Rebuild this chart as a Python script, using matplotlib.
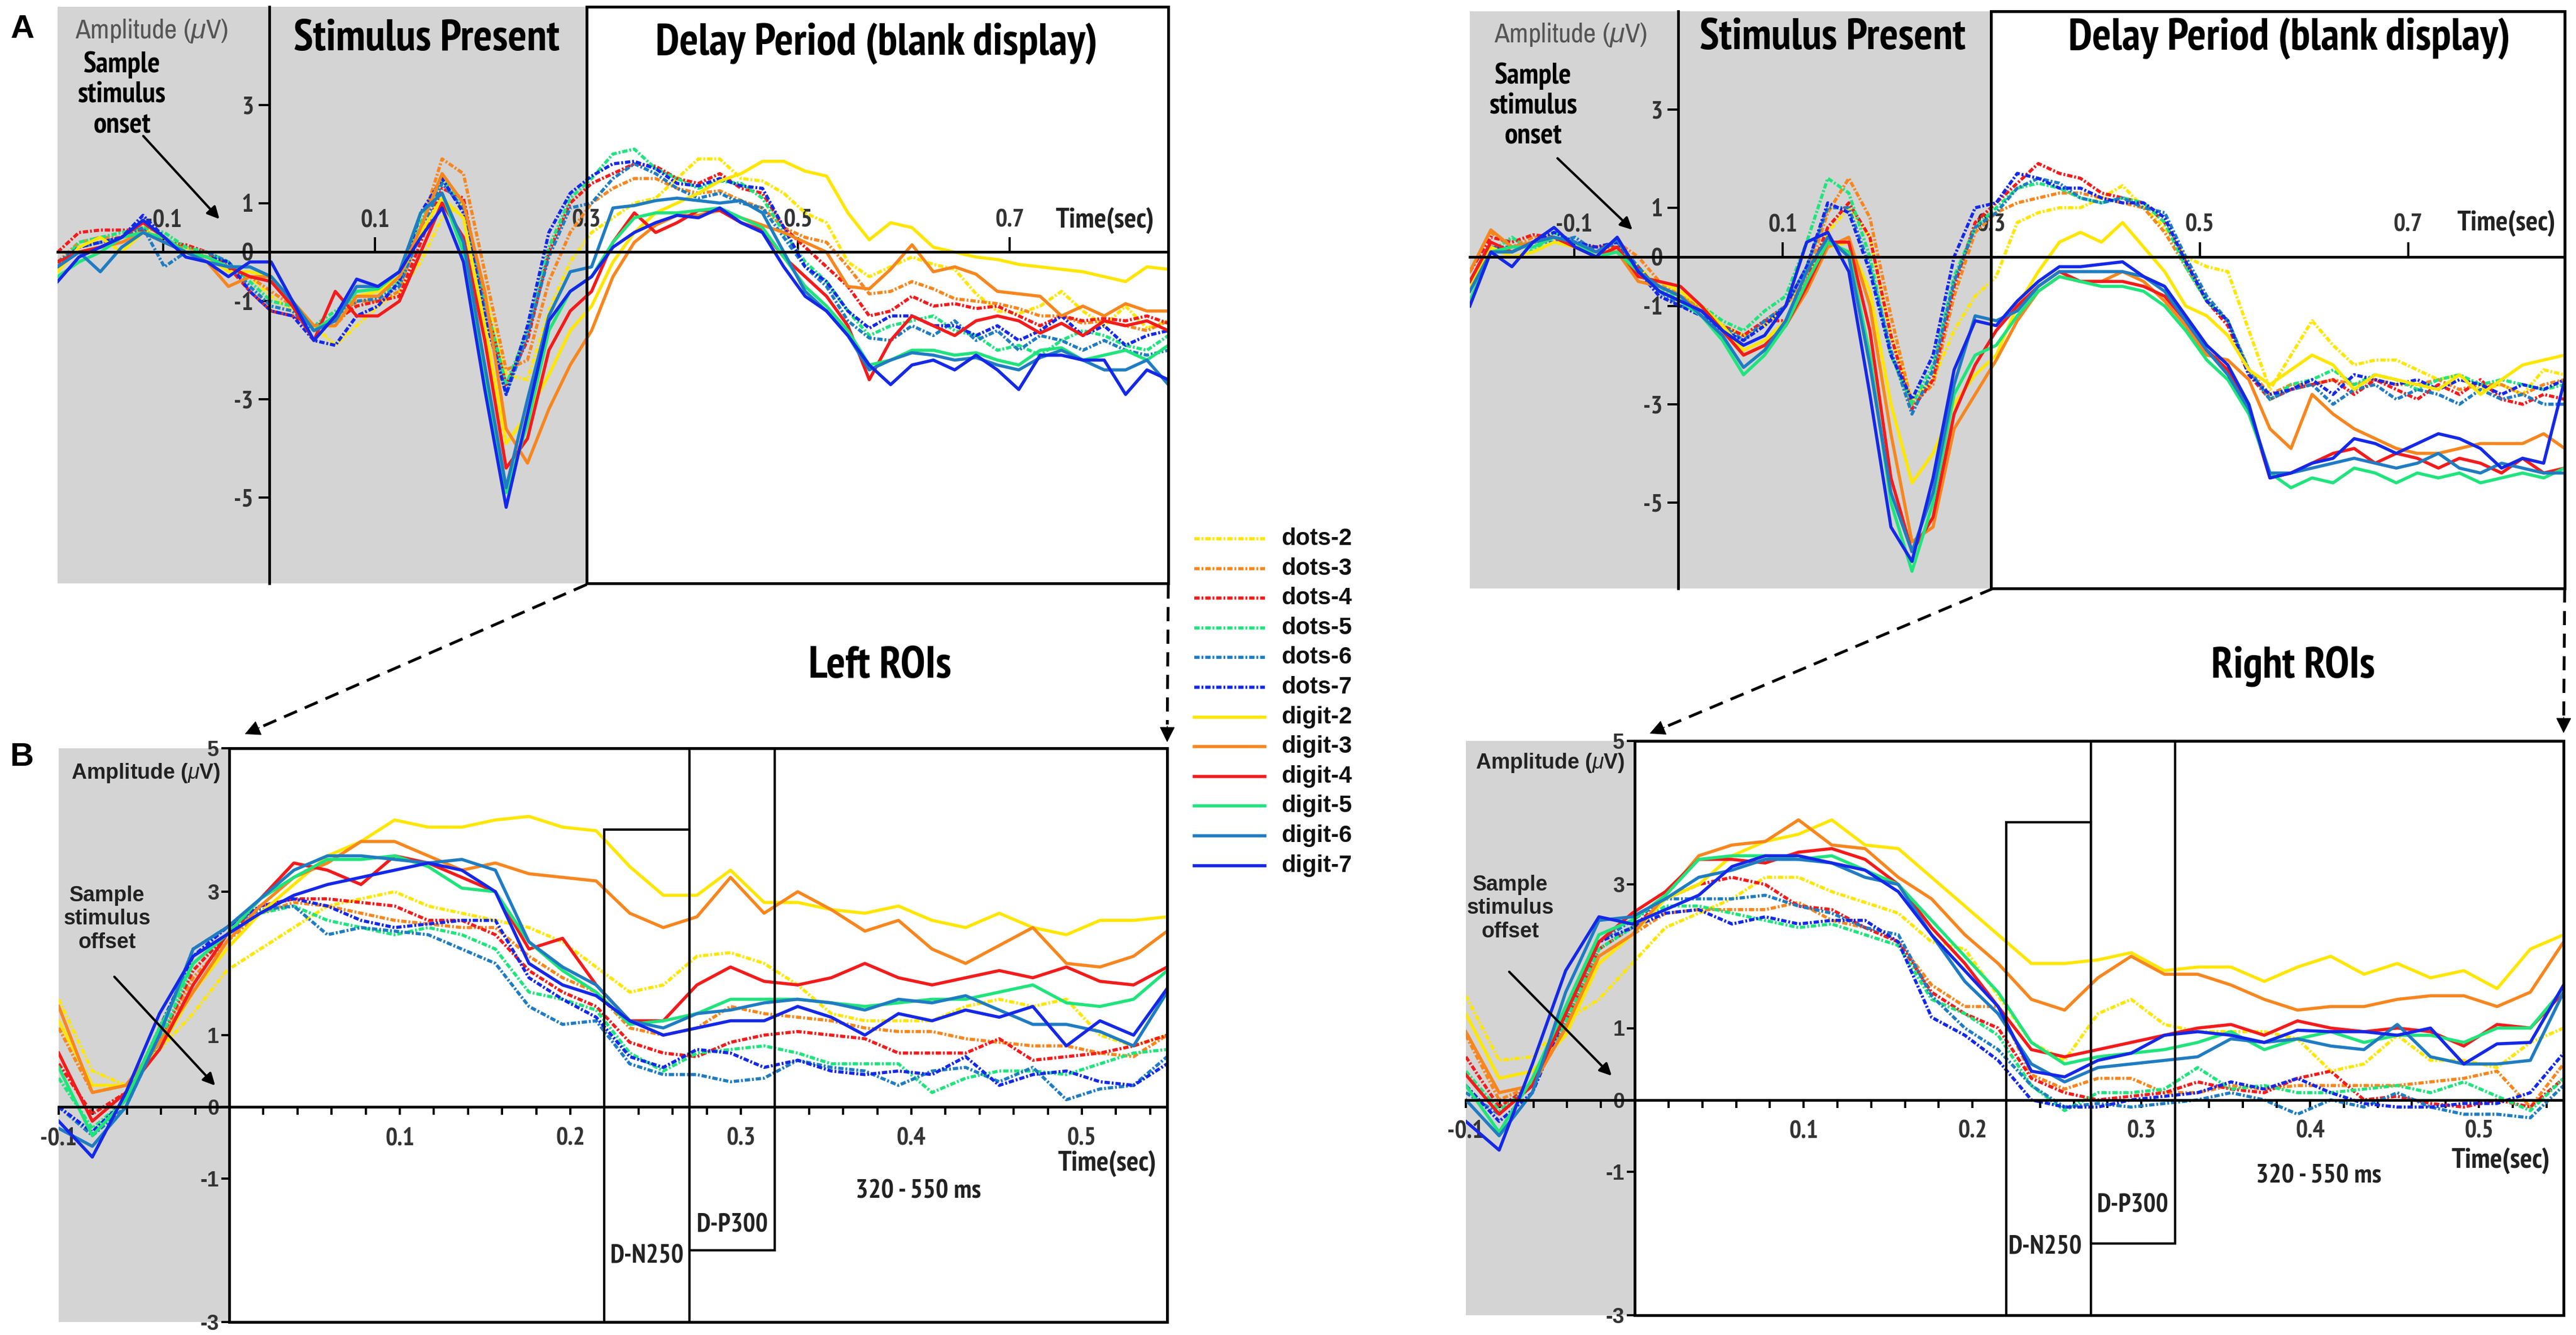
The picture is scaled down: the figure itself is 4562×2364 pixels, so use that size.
import os
import numpy as np
import matplotlib
matplotlib.use('Agg')
import matplotlib.pyplot as plt
from matplotlib import font_manager as fm
from matplotlib.font_manager import FontProperties
from matplotlib.patches import Rectangle, FancyArrowPatch
from matplotlib.lines import Line2D

W, H = 4562, 2364
ARIAL = ['Liberation Sans', 'DejaVu Sans']
plt.rcParams['font.family'] = ARIAL
plt.rcParams['mathtext.fontset'] = 'custom'
plt.rcParams['mathtext.rm'] = 'Liberation Sans'
plt.rcParams['mathtext.it'] = 'Liberation Sans:italic'


def find_font(keys, bold):
    # look for a narrow / condensed face on disk, else None
    for key in keys:
        for f in fm.fontManager.ttflist:
            fn = os.path.basename(f.fname).lower()
            if key in fn and ('bold' in fn) == bold and 'italic' not in fn \
                    and 'oblique' not in fn:
                return f.fname
    return None


NARROW_B = find_font(['narrow', 'condensed'], True)
NARROW_R = find_font(['narrow', 'condensed'], False)


def nfont(size, bold=True):
    path = NARROW_B if bold else NARROW_R
    if path:
        return FontProperties(fname=path, size=size)
    return FontProperties(family=ARIAL, weight='bold' if bold else 'normal', size=size)


# ---- series names / colours ----
labels = ['dots-2', 'dots-3', 'dots-4', 'dots-5', 'dots-6', 'dots-7',
          'digit-2', 'digit-3', 'digit-4', 'digit-5', 'digit-6', 'digit-7']
colors = ['#ffe600', '#f7861e', '#f31b1b', '#1fe47c', '#1f7cc2', '#1428e8'] * 2

# time grids (sec)
t_top = np.linspace(-0.2, 0.85, 53)
t_bot = np.linspace(-0.1, 0.55, 34)

# ---- A, left ROIs (uV) ----
tl_dots2 = [-0.3, 0.1, 0.2, 0.3, 0.5, 0.2, 0.1, -0.1, -0.3, -0.5,
            -0.9, -1.2, -1.5, -1.9, -1.5, -1.1, -0.8, -0.2, 0.7, 1.0, -0.8, -2.5, -2.6, -1.2, -0.2,
            0.4, 0.7, 1.0, 1.1, 1.5, 1.9, 1.9, 1.5, 1.45, 1.2, 0.8, 0.6, -0.2, -0.5, -0.3, -0.1, -0.25,
            -0.35, -0.85, -1.2, -1.25, -1.1, -0.8, -1.2, -1.5, -1.1, -1.55, -1.4]
tl_dots3 = [-0.2, 0.2, 0.3, 0.3, 0.4, 0.2, 0.1, 0.0, -0.3, -0.5,
            -0.8, -1.1, -1.5, -1.5, -1.0, -1.0, -0.8, 0.5, 1.9, 1.6, -0.4, -2.4, -2.2, -0.6, 0.4,
            1.0, 1.3, 1.5, 1.5, 1.3, 1.2, 1.25, 1.05, 0.9, 0.5, 0.3, 0.2, -0.3, -0.85, -0.8, -0.6, -0.75,
            -0.95, -1.0, -1.05, -1.15, -1.3, -1.3, -1.45, -1.4, -1.5, -1.6, -1.4]
tl_dots4 = [0.0, 0.4, 0.45, 0.45, 0.45, 0.2, 0.15, 0.0, -0.3, -0.8,
            -1.2, -1.3, -1.5, -1.4, -1.1, -1.0, -0.9, 0.2, 1.3, 1.1, -1.0, -2.7, -1.8, 0.0, 1.0,
            1.4, 1.6, 1.8, 1.75, 1.5, 1.4, 1.6, 1.3, 1.2, 0.5, 0.1, -0.3, -0.7, -1.3, -1.2, -0.9, -1.1,
            -1.05, -1.15, -1.1, -1.3, -1.5, -1.3, -1.4, -1.35, -1.4, -1.3, -1.45]
tl_dots5 = [-0.3, 0.2, 0.3, 0.4, 0.5, 0.4, 0.1, 0.0, -0.2, -0.6,
            -1.0, -1.1, -1.5, -1.2, -0.9, -0.9, -0.6, 0.6, 1.5, 1.0, -1.0, -2.7, -1.6, 0.1, 1.1,
            1.5, 2.0, 2.1, 1.7, 1.5, 1.3, 1.45, 1.4, 1.1, 0.4, -0.2, -0.6, -1.2, -1.7, -1.5, -1.4, -1.3,
            -1.6, -1.7, -2.0, -1.9, -2.1, -1.8, -1.6, -1.7, -1.9, -2.0, -1.7]
tl_dots6 = [-0.2, 0.1, 0.2, 0.3, 0.5, -0.3, 0.0, 0.0, -0.2, -0.7,
            -1.1, -1.2, -1.6, -1.3, -1.0, -0.95, -0.7, 0.4, 1.4, 0.9, -1.2, -2.9, -1.7, -0.1, 0.9,
            1.0, 1.5, 1.8, 1.6, 1.3, 1.1, 1.2, 1.0, 0.9, 0.3, -0.3, -0.7, -1.4, -1.75, -1.8, -1.5, -1.7,
            -1.4, -1.8, -1.6, -2.0, -1.7, -1.8, -2.0, -1.8, -2.0, -2.1, -2.0]
tl_dots7 = [-0.3, 0.1, 0.2, 0.3, 0.75, 0.3, 0.0, -0.1, -0.2, -0.8,
            -1.2, -1.3, -1.8, -1.9, -1.3, -1.1, -0.6, 0.8, 1.5, 0.8, -1.3, -2.9, -1.5, 0.4, 1.2,
            1.55, 1.8, 1.85, 1.7, 1.4, 1.35, 1.5, 1.35, 1.3, 0.5, -0.3, -0.6, -1.2, -1.55, -1.3, -1.3, -1.5,
            -1.5, -1.7, -1.5, -1.8, -1.6, -1.3, -1.7, -1.5, -1.9, -1.7, -1.6]
tl_digit2 = [-0.4, 0.1, 0.3, 0.0, 0.4, 0.3, 0.0, -0.1, -0.4, -0.4,
             -0.5, -1.0, -1.5, -1.5, -0.9, -0.8, -0.5, 0.4, 1.1, 0.7, -1.5, -3.9, -3.3, -2.5, -1.6,
             -1.1, -0.2, 0.4, 0.8, 1.0, 1.2, 1.45, 1.6, 1.85, 1.85, 1.65, 1.55, 0.8, 0.25, 0.6, 0.5, 0.1,
             0.0, -0.1, -0.15, -0.25, -0.3, -0.35, -0.4, -0.5, -0.6, -0.3, -0.35]
tl_digit3 = [-0.3, 0.0, 0.1, 0.2, 0.4, 0.2, 0.0, -0.2, -0.7, -0.5,
             -0.5, -1.0, -1.5, -1.5, -0.9, -0.9, -0.5, 0.5, 1.6, 1.0, -0.8, -3.6, -4.3, -3.2, -2.3,
             -1.6, -0.5, 0.2, 0.55, 0.75, 0.75, 0.85, 0.7, 0.55, 0.4, 0.2, 0.0, -0.7, -0.75, -0.35, 0.15, -0.4,
             -0.3, -0.45, -0.8, -0.85, -0.9, -1.3, -1.1, -1.3, -1.05, -1.2, -1.2]
tl_digit4 = [-0.2, 0.0, 0.1, 0.3, 0.6, 0.3, 0.0, -0.1, -0.3, -0.5,
             -0.6, -1.1, -1.8, -0.8, -1.3, -1.3, -1.0, 0.0, 1.0, 0.3, -1.8, -4.4, -3.8, -2.0, -1.2,
             -0.8, 0.2, 0.8, 0.4, 0.6, 0.85, 0.85, 0.6, 0.45, -0.1, -0.5, -0.9, -1.5, -2.6, -1.8, -1.3, -1.5,
             -1.7, -1.4, -1.3, -1.4, -1.65, -1.45, -1.7, -1.4, -1.5, -1.4, -1.6]
tl_digit5 = [-0.5, -0.2, 0.0, 0.3, 0.4, 0.3, 0.0, -0.1, -0.3, -0.3,
             -0.5, -1.0, -1.6, -1.3, -0.8, -0.75, -0.4, 0.8, 1.2, 0.0, -2.5, -4.9, -3.5, -1.6, -0.8,
             -0.5, 0.2, 0.7, 0.8, 0.8, 0.85, 0.9, 0.7, 0.5, -0.1, -0.7, -1.1, -1.6, -2.3, -2.2, -2.0, -2.0,
             -2.1, -2.05, -2.2, -2.3, -2.0, -1.95, -2.2, -2.1, -2.0, -2.2, -1.9]
tl_digit6 = [-0.3, 0.0, -0.4, 0.1, 0.4, 0.2, 0.0, -0.2, -0.3, -0.3,
             -0.5, -1.0, -1.6, -1.4, -0.7, -0.7, -0.4, 0.8, 1.2, 0.2, -2.3, -4.8, -3.0, -1.3, -0.4,
             -0.3, 0.9, 0.95, 1.05, 1.1, 1.05, 1.0, 1.05, 0.8, 0.0, -0.8, -1.2, -1.7, -2.4, -2.2, -2.05, -2.1,
             -2.2, -2.15, -2.3, -2.4, -2.15, -2.0, -2.2, -2.4, -2.4, -2.2, -2.7]
tl_digit7 = [-0.6, -0.1, 0.1, 0.3, 0.65, 0.3, -0.1, -0.2, -0.5, -0.2,
             -0.2, -1.0, -1.8, -1.3, -0.55, -0.7, -0.4, 0.3, 0.9, -0.2, -2.8, -5.2, -3.3, -1.4, -0.8,
             -0.5, 0.1, 0.4, 0.6, 0.75, 0.7, 0.9, 0.6, 0.4, -0.3, -0.9, -1.2, -1.7, -2.3, -2.7, -2.3, -2.2,
             -2.4, -2.1, -2.4, -2.8, -2.1, -2.1, -2.2, -2.2, -2.9, -2.4, -2.6]

# ---- A, right ROIs ----
tr_dots2 = [-0.5, 0.2, 0.1, 0.3, 0.4, 0.3, 0.1, 0.2, -0.2, -0.6,
            -0.8, -1.0, -1.4, -1.6, -1.4, -1.0, -0.5, 0.5, 1.0, 0.4, -1.6, -2.9, -2.5, -1.5, -0.8,
            -0.4, 0.7, 0.9, 1.0, 1.0, 1.2, 1.45, 1.0, 0.6, 0.0, -0.2, -0.3, -1.5, -2.7, -2.0, -1.3, -1.8,
            -2.2, -2.1, -2.1, -2.3, -2.5, -2.4, -2.7, -2.6, -2.8, -2.3, -2.4]
tr_dots3 = [-0.3, 0.5, 0.2, 0.4, 0.4, 0.3, 0.2, 0.3, 0.0, -0.5,
            -0.8, -1.0, -1.4, -1.6, -1.3, -1.0, -0.4, 0.9, 1.6, 0.8, -1.2, -3.0, -2.6, -0.8, 0.5,
            0.9, 1.1, 1.2, 1.3, 1.3, 1.2, 1.1, 1.0, 0.5, -0.2, -0.9, -1.3, -2.3, -2.8, -2.6, -2.6, -2.5,
            -2.6, -2.5, -2.6, -2.6, -2.5, -2.7, -2.6, -2.6, -2.8, -2.6, -2.5]
tr_dots4 = [-0.3, 0.4, 0.3, 0.45, 0.4, 0.2, 0.2, 0.2, -0.2, -0.7,
            -0.9, -1.1, -1.4, -1.6, -1.3, -1.3, -0.5, 0.6, 1.1, 0.4, -1.6, -3.1, -2.5, -0.6, 0.7,
            1.1, 1.5, 1.9, 1.7, 1.6, 1.3, 1.2, 1.1, 0.7, -0.1, -0.9, -1.4, -2.4, -2.9, -2.7, -2.6, -2.5,
            -2.8, -2.5, -2.7, -2.9, -2.6, -2.8, -2.5, -2.9, -3.0, -2.8, -2.9]
tr_dots5 = [-0.6, 0.1, 0.4, 0.1, 0.5, 0.3, 0.0, 0.2, -0.3, -0.6,
            -0.9, -1.0, -1.3, -1.5, -1.1, -0.8, 0.3, 1.6, 1.3, 0.0, -2.0, -3.0, -2.2, -0.4, 0.6,
            1.0, 1.4, 1.5, 1.4, 1.2, 1.1, 1.2, 1.1, 0.7, -0.2, -0.9, -1.3, -2.3, -2.9, -2.6, -2.5, -2.3,
            -2.6, -2.4, -2.5, -2.7, -2.5, -2.4, -2.6, -2.5, -2.6, -2.7, -2.6]
tr_dots6 = [-0.5, 0.2, 0.2, 0.3, 0.3, 0.4, 0.1, 0.3, -0.2, -0.7,
            -1.0, -1.1, -1.4, -1.7, -1.3, -1.0, -0.2, 1.0, 1.0, -0.2, -1.9, -3.2, -2.3, -0.5, 0.6,
            0.9, 1.4, 1.6, 1.5, 1.2, 1.1, 1.2, 1.0, 0.9, 0.0, -0.8, -1.3, -2.3, -2.9, -2.7, -2.6, -3.0,
            -2.7, -2.6, -2.9, -2.7, -2.8, -3.0, -2.7, -2.9, -2.8, -3.0, -3.0]
tr_dots7 = [-0.6, 0.2, 0.1, 0.3, 0.5, 0.3, 0.2, 0.3, -0.3, -0.8,
            -1.0, -1.2, -1.5, -1.7, -1.4, -1.0, -0.2, 1.1, 0.9, -0.3, -2.0, -2.9, -2.0, 0.0, 1.0,
            1.1, 1.7, 1.6, 1.4, 1.4, 1.2, 1.1, 1.1, 0.8, -0.1, -0.9, -1.3, -2.4, -2.8, -2.7, -2.5, -2.8,
            -2.4, -2.5, -2.6, -2.5, -2.7, -2.5, -2.6, -2.8, -2.6, -2.7, -2.5]
tr_digit2 = [-0.6, 0.2, 0.0, 0.1, 0.3, 0.2, 0.0, 0.2, -0.4, -0.5,
             -0.7, -1.0, -1.4, -1.9, -1.7, -1.3, -0.6, 0.2, 0.3, -0.7, -3.0, -4.6, -4.0, -3.0, -2.4,
             -2.0, -1.0, -0.3, 0.3, 0.5, 0.3, 0.7, 0.2, -0.3, -1.0, -1.2, -1.6, -2.3, -2.6, -2.3, -2.0, -2.2,
             -2.7, -2.4, -2.5, -2.6, -2.7, -2.4, -2.8, -2.5, -2.2, -2.1, -2.0]
tr_digit3 = [-0.3, 0.55, 0.2, 0.3, 0.4, 0.2, 0.1, 0.1, -0.5, -0.6,
             -0.8, -1.1, -1.5, -2.0, -1.8, -1.4, -0.7, 0.2, 0.4, -1.0, -3.6, -5.8, -5.5, -3.5, -2.8,
             -2.1, -1.3, -0.7, -0.4, -0.5, -0.5, -0.3, -0.5, -0.9, -1.4, -2.0, -2.1, -2.5, -3.5, -3.9, -2.8, -3.2,
             -3.5, -3.7, -3.9, -4.0, -4.0, -3.9, -3.8, -3.8, -3.8, -3.6, -3.9]
tr_digit4 = [-0.5, 0.3, 0.1, 0.3, 0.4, 0.2, 0.0, 0.2, -0.4, -0.5,
             -0.6, -1.0, -1.5, -2.0, -1.8, -1.4, -0.6, 0.3, 0.3, -1.5, -4.5, -6.0, -5.3, -3.2, -2.2,
             -1.5, -1.0, -0.6, -0.3, -0.5, -0.5, -0.5, -0.6, -0.8, -1.3, -1.9, -2.3, -3.1, -4.5, -4.4, -4.2, -4.0,
             -3.9, -4.2, -4.0, -4.1, -4.3, -4.1, -4.2, -4.4, -4.1, -4.4, -4.3]
tr_digit5 = [-0.9, 0.1, 0.2, 0.2, 0.4, 0.3, 0.0, 0.1, -0.3, -0.7,
             -0.9, -1.2, -1.7, -2.4, -2.0, -1.4, -0.5, 0.3, 0.1, -2.0, -5.0, -6.4, -5.0, -2.8, -2.0,
             -1.8, -1.2, -0.7, -0.4, -0.5, -0.6, -0.6, -0.7, -1.0, -1.5, -2.1, -2.5, -3.2, -4.4, -4.7, -4.5, -4.6,
             -4.3, -4.4, -4.6, -4.4, -4.5, -4.4, -4.6, -4.5, -4.4, -4.5, -4.3]
tr_digit6 = [-0.7, 0.1, 0.1, 0.3, 0.4, 0.3, 0.1, 0.35, -0.3, -0.6,
             -0.8, -1.2, -1.6, -2.25, -1.9, -1.3, -0.3, 0.4, 0.0, -2.2, -4.8, -6.0, -4.8, -2.6, -1.2,
             -1.3, -1.1, -0.6, -0.3, -0.3, -0.3, -0.3, -0.4, -0.7, -1.3, -1.9, -2.4, -3.1, -4.4, -4.4, -4.3, -4.2,
             -4.1, -4.2, -4.3, -4.2, -4.0, -4.3, -4.4, -4.2, -4.3, -4.4, -4.4]
tr_digit7 = [-1.0, 0.1, -0.2, 0.3, 0.6, 0.2, 0.0, 0.4, -0.3, -0.7,
             -0.9, -1.1, -1.5, -1.8, -1.6, -1.0, 0.3, 0.5, -0.3, -2.8, -5.5, -6.2, -4.5, -2.3, -1.3,
             -1.4, -0.9, -0.5, -0.2, -0.2, -0.15, -0.1, -0.4, -0.6, -1.2, -1.8, -2.2, -3.0, -4.5, -4.4, -4.2, -4.1,
             -3.7, -3.8, -4.0, -3.8, -3.6, -3.7, -3.9, -4.3, -4.1, -4.2, -2.5]

# ---- B, left ROIs ----
bl_dots2 = [1.5, 0.5, 0.3, 0.8, 1.3, 1.9, 2.2, 2.5, 2.8, 2.9, 3.0, 2.8, 2.7, 2.6, 2.5, 2.3, 1.95,
            1.6, 1.7, 2.1, 2.15, 2.0, 1.7, 1.3, 1.2, 1.2, 1.2, 1.4, 1.5, 1.4, 1.5, 1.0, 0.85, 1.0]
bl_dots3 = [1.1, 0.2, 0.3, 0.9, 1.8, 2.3, 2.7, 2.85, 2.8, 2.7, 2.6, 2.55, 2.5, 2.5, 2.1, 1.8, 1.6,
            1.1, 1.0, 1.1, 1.4, 1.3, 1.25, 1.2, 1.1, 1.05, 1.05, 0.95, 0.9, 0.85, 0.85, 0.75, 0.7, 1.0]
bl_dots4 = [0.6, -0.1, 0.2, 0.9, 1.9, 2.4, 2.8, 2.9, 2.9, 2.85, 2.8, 2.6, 2.6, 2.4, 1.9, 1.6, 1.4,
            0.9, 0.75, 0.7, 0.9, 1.0, 1.05, 1.0, 0.95, 0.75, 0.75, 0.75, 0.95, 0.65, 0.7, 0.75, 0.85, 1.0]
bl_dots5 = [0.4, -0.3, 0.1, 0.9, 2.0, 2.4, 2.7, 2.8, 2.6, 2.5, 2.4, 2.5, 2.4, 2.2, 1.6, 1.5, 1.35,
            0.75, 0.5, 0.75, 0.8, 0.85, 0.75, 0.6, 0.6, 0.6, 0.2, 0.4, 0.5, 0.5, 0.45, 0.6, 0.75, 0.8]
bl_dots6 = [0.0, -0.4, 0.0, 1.0, 2.2, 2.5, 2.75, 2.8, 2.4, 2.5, 2.45, 2.4, 2.2, 2.0, 1.4, 1.15, 1.2,
            0.6, 0.45, 0.45, 0.35, 0.4, 0.65, 0.55, 0.5, 0.3, 0.5, 0.55, 0.35, 0.55, 0.1, 0.25, 0.3, 0.7]
bl_dots7 = [0.0, -0.35, 0.1, 1.1, 2.1, 2.5, 2.8, 2.9, 2.8, 2.6, 2.5, 2.55, 2.6, 2.6, 1.8, 1.5, 1.25,
            0.7, 0.55, 0.8, 0.75, 0.55, 0.65, 0.5, 0.45, 0.5, 0.45, 0.7, 0.3, 0.45, 0.5, 0.35, 0.3, 0.6]
bl_digit2 = [1.2, 0.3, 0.3, 0.8, 1.6, 2.2, 2.7, 3.1, 3.5, 3.7, 4.0, 3.9, 3.9, 4.0, 4.05, 3.9, 3.85,
             3.35, 2.95, 2.95, 3.3, 2.85, 2.85, 2.75, 2.7, 2.8, 2.6, 2.5, 2.7, 2.5, 2.4, 2.6, 2.6, 2.65]
bl_digit3 = [1.4, 0.2, 0.3, 0.9, 1.6, 2.3, 2.8, 3.2, 3.4, 3.7, 3.7, 3.5, 3.3, 3.4, 3.25, 3.2, 3.15,
             2.7, 2.5, 2.65, 3.2, 2.7, 3.0, 2.75, 2.45, 2.6, 2.2, 2.0, 2.25, 2.5, 2.0, 1.95, 2.1, 2.45]
bl_digit4 = [0.75, -0.2, 0.2, 0.8, 1.7, 2.4, 2.9, 3.4, 3.3, 3.1, 3.5, 3.4, 3.2, 3.0, 2.2, 2.35, 1.7,
             1.2, 1.2, 1.7, 1.95, 1.75, 1.7, 1.8, 2.0, 1.8, 1.7, 1.8, 1.9, 1.8, 1.95, 1.75, 1.7, 1.95]
bl_digit5 = [0.55, -0.4, 0.1, 1.1, 2.0, 2.4, 2.9, 3.2, 3.45, 3.45, 3.5, 3.35, 3.05, 3.0, 2.3, 1.9, 1.6,
             1.15, 1.2, 1.3, 1.5, 1.5, 1.5, 1.45, 1.4, 1.45, 1.5, 1.5, 1.6, 1.7, 1.45, 1.4, 1.5, 1.9]
bl_digit6 = [-0.3, -0.55, 0.0, 1.0, 2.2, 2.5, 2.9, 3.3, 3.5, 3.5, 3.45, 3.4, 3.45, 3.3, 2.3, 1.95, 1.7,
             1.2, 1.1, 1.3, 1.35, 1.45, 1.5, 1.45, 1.35, 1.5, 1.45, 1.55, 1.35, 1.15, 1.15, 1.05, 0.85, 1.6]
bl_digit7 = [-0.2, -0.7, 0.2, 1.3, 2.1, 2.4, 2.7, 2.95, 3.1, 3.2, 3.3, 3.4, 3.3, 3.0, 2.0, 1.7, 1.55,
             1.2, 1.0, 1.1, 1.2, 1.2, 1.4, 1.25, 1.0, 1.3, 1.2, 1.35, 1.25, 1.4, 0.85, 1.2, 1.0, 1.65]

# ---- B, right ROIs ----
br_dots2 = [1.45, 0.55, 0.6, 1.1, 1.4, 1.9, 2.4, 2.6, 2.8, 3.1, 3.1, 2.9, 2.75, 2.6, 2.2, 2.1, 1.45,
            0.8, 0.55, 1.2, 1.4, 1.05, 0.95, 0.95, 0.95, 0.85, 0.4, 0.5, 0.9, 0.55, 0.55, 0.45, 0.8, 1.0]
br_dots3 = [0.9, 0.0, 0.2, 1.0, 2.0, 2.3, 2.6, 2.65, 2.65, 2.65, 2.75, 2.5, 2.4, 2.2, 1.6, 1.3, 1.3,
            0.35, 0.15, 0.3, 0.3, 0.1, 0.1, 0.2, 0.15, 0.2, 0.2, 0.2, 0.2, 0.25, 0.3, 0.4, -0.1, 0.5]
br_dots4 = [0.6, -0.1, 0.2, 1.1, 2.1, 2.4, 2.8, 3.0, 3.1, 3.0, 2.7, 2.65, 2.4, 2.2, 1.5, 1.2, 1.0,
            0.3, 0.1, 0.0, 0.05, 0.1, 0.25, 0.15, 0.1, 0.3, 0.4, 0.0, 0.05, -0.05, -0.1, 0.0, -0.1, 0.3]
br_dots5 = [0.4, -0.15, 0.2, 1.1, 2.1, 2.4, 2.7, 2.7, 2.6, 2.5, 2.4, 2.45, 2.3, 2.15, 1.4, 1.2, 0.9,
            0.2, -0.15, 0.1, 0.1, 0.15, 0.45, 0.15, 0.2, 0.1, 0.1, 0.15, 0.2, 0.1, 0.25, 0.05, -0.15, 0.3]
br_dots6 = [0.1, -0.2, 0.2, 1.2, 2.2, 2.5, 2.8, 2.8, 2.8, 2.85, 2.7, 2.6, 2.4, 2.3, 1.45, 1.0, 0.7,
            0.2, -0.1, -0.05, -0.1, -0.05, 0.0, 0.1, 0.0, -0.2, 0.0, -0.1, 0.1, -0.1, -0.2, -0.2, -0.25, 0.2]
br_dots7 = [0.2, -0.3, 0.1, 1.2, 2.2, 2.4, 2.6, 2.65, 2.45, 2.55, 2.45, 2.5, 2.5, 2.2, 1.15, 0.9, 0.55,
            0.0, -0.1, -0.1, 0.0, 0.05, 0.1, 0.25, 0.15, 0.3, 0.1, -0.05, -0.1, -0.1, -0.05, -0.05, 0.1, 0.65]
br_digit2 = [1.2, 0.3, 0.4, 0.9, 1.9, 2.3, 2.8, 3.0, 3.4, 3.6, 3.7, 3.9, 3.55, 3.5, 3.1, 2.7, 2.3,
             1.9, 1.9, 1.95, 2.05, 1.8, 1.85, 1.85, 1.65, 1.85, 2.0, 1.75, 1.9, 1.7, 1.8, 1.55, 2.1, 2.3]
br_digit3 = [0.95, 0.1, 0.2, 1.0, 2.0, 2.3, 2.85, 3.4, 3.55, 3.6, 3.9, 3.55, 3.5, 3.1, 2.8, 2.3, 1.9,
             1.4, 1.25, 1.7, 2.0, 1.75, 1.75, 1.6, 1.4, 1.25, 1.3, 1.3, 1.4, 1.45, 1.45, 1.3, 1.5, 2.2]
br_digit4 = [0.35, -0.2, 0.2, 1.2, 2.2, 2.6, 2.9, 3.35, 3.35, 3.3, 3.45, 3.5, 3.35, 3.0, 2.4, 1.9, 1.3,
             0.7, 0.6, 0.7, 0.8, 0.9, 1.0, 1.05, 0.9, 1.1, 1.0, 0.95, 1.0, 0.95, 0.75, 1.05, 1.0, 1.5]
br_digit5 = [0.2, -0.45, 0.3, 1.3, 2.3, 2.5, 2.85, 3.35, 3.4, 3.4, 3.35, 3.4, 3.2, 3.0, 2.5, 2.0, 1.5,
             0.8, 0.5, 0.6, 0.65, 0.7, 0.8, 0.95, 0.7, 0.85, 0.95, 0.8, 0.9, 0.9, 0.8, 1.0, 1.0, 1.55]
br_digit6 = [0.0, -0.5, 0.1, 1.5, 2.5, 2.55, 2.8, 3.1, 3.2, 3.35, 3.35, 3.3, 3.1, 3.0, 2.3, 1.65, 1.2,
             0.5, 0.25, 0.45, 0.5, 0.55, 0.6, 0.85, 0.8, 0.85, 0.75, 0.7, 1.05, 0.6, 0.5, 0.5, 0.55, 1.5]
br_digit7 = [-0.3, -0.7, 0.5, 1.8, 2.55, 2.45, 2.65, 2.85, 3.25, 3.4, 3.4, 3.3, 3.2, 2.9, 2.3, 1.8, 1.3,
             0.4, 0.32, 0.55, 0.65, 0.9, 0.95, 0.9, 0.8, 0.97, 0.95, 0.95, 0.9, 1.0, 0.5, 0.78, 0.8, 1.6]

top_left = [tl_dots2, tl_dots3, tl_dots4, tl_dots5, tl_dots6, tl_dots7,
            tl_digit2, tl_digit3, tl_digit4, tl_digit5, tl_digit6, tl_digit7]
top_right = [tr_dots2, tr_dots3, tr_dots4, tr_dots5, tr_dots6, tr_dots7,
             tr_digit2, tr_digit3, tr_digit4, tr_digit5, tr_digit6, tr_digit7]
bot_left = [bl_dots2, bl_dots3, bl_dots4, bl_dots5, bl_dots6, bl_dots7,
            bl_digit2, bl_digit3, bl_digit4, bl_digit5, bl_digit6, bl_digit7]
bot_right = [br_dots2, br_dots3, br_dots4, br_dots5, br_dots6, br_dots7,
             br_digit2, br_digit3, br_digit4, br_digit5, br_digit6, br_digit7]

top_xticks = [-0.1, 0.1, 0.3, 0.5, 0.7]
top_yticks = [3, 1, 0, -1, -3, -5]
bot_xticks = [-0.1, 0.1, 0.2, 0.3, 0.4, 0.5]
bot_yticks = [5, 3, 1, 0, -1, -3]

GRAY = '#d4d4d4'
DASH = (0, (1.7, 0.6, 0.6, 0.6))
LW = 4.0

fig = plt.figure(figsize=(W / 100, H / 100), dpi=100)
renderer = fig.canvas.get_renderer()


def fit(t, target_px):
    # scale a text so its rendered width matches the reference width
    w = t.get_window_extent(renderer).width
    t.set_fontsize(t.get_fontsize() * target_px / w)
    return t


# tick label size: "0.1" is a bit over 46 px wide in the reference
_probe = fig.text(0, 0, '0.1', fontproperties=nfont(30))
TICK_SIZE = fit(_probe, 52).get_fontsize()
_probe.remove()


def add_ax(x0, x1, ytop, ybot):
    return fig.add_axes([x0 / W, 1 - ybot / H, (x1 - x0) / W, (ybot - ytop) / H])


def draw_curves(ax, t, series):
    for vals, lab, col in zip(series, labels, colors):
        ls = DASH if lab.startswith('dots') else '-'
        ax.plot(t, vals, color=col, lw=LW, ls=ls, solid_joinstyle='round',
                dash_joinstyle='round', zorder=2)


def style_axes(ax):
    ax.patch.set_visible(False)
    for s in ['top', 'right']:
        ax.spines[s].set_visible(False)
    for s in ['left', 'bottom']:
        ax.spines[s].set_position(('data', 0))
        ax.spines[s].set_linewidth(3.4)


def tick_fonts(ax, size):
    for lab in ax.get_xticklabels() + ax.get_yticklabels():
        lab.set_fontproperties(nfont(size))


def top_panel(ax, series, txt):
    ax.set_xlim(-0.2, 0.85)
    ax.set_ylim(-6.75, 5)
    ax.add_patch(Rectangle((-0.2, -6.75), 0.5, 11.75, fc=GRAY, ec='none', zorder=0))
    draw_curves(ax, t_top, series)
    ax.add_patch(Rectangle((0.3, -6.75), 0.55, 11.75, fill=False, ec='k', lw=3.6,
                           zorder=4, clip_on=False))
    style_axes(ax)
    ax.set_xticks(top_xticks)
    ax.set_xticklabels([f'{v:g}' for v in top_xticks])
    ax.set_yticks(top_yticks)
    ax.set_yticklabels([f'{v:g}' for v in top_yticks])
    ax.tick_params(axis='x', direction='in', length=19, width=2.8, pad=-55,
                   labelcolor='#333333')
    ax.tick_params(axis='y', direction='out', length=14, width=2.8, pad=6,
                   labelcolor='#333333')
    tick_fonts(ax, TICK_SIZE)
    t = ax.text(*txt['amp'], 'Amplitude ($\\mu$V)', ha='center', va='center',
                color='#555555', fontproperties=nfont(27, bold=False))
    fit(t, 272)
    t = ax.text(*txt['onset'], 'Sample\nstimulus\nonset', ha='center', va='center',
                fontproperties=nfont(28), linespacing=1.15)
    fit(t, 156)
    ax.annotate('', xy=txt['arrow'][2:], xytext=txt['arrow'][:2],
                arrowprops=dict(arrowstyle='-|>', color='k', lw=3, mutation_scale=32))
    t = ax.text(*txt['stim'], 'Stimulus Present', ha='center', va='center',
                fontproperties=nfont(48))
    fit(t, 470)
    t = ax.text(*txt['delay'], 'Delay Period (blank display)', ha='center', va='center',
                fontproperties=nfont(48))
    fit(t, 780)
    t = ax.text(*txt['time'], 'Time(sec)', ha='center', va='center',
                fontproperties=nfont(28), color='#222222')
    fit(t, 175)


def bottom_panel(ax, series, txt):
    ax.set_xlim(-0.1, 0.55)
    ax.set_ylim(-3, 5)
    ax.add_patch(Rectangle((-0.1, -3), 0.1, 8, fc=GRAY, ec='none', zorder=0))
    draw_curves(ax, t_bot, series)
    ax.add_patch(Rectangle((0, -3), 0.55, 8, fill=False, ec='k', lw=3.6, zorder=4,
                           clip_on=False))
    ax.add_patch(Rectangle((0.22, -3), 0.05, 6.87, fill=False, ec='k', lw=3, zorder=4,
                           clip_on=False))
    ax.add_patch(Rectangle((0.27, -2.0), 0.05, 7.0, fill=False, ec='k', lw=3, zorder=4,
                           clip_on=False))
    style_axes(ax)
    ax.set_xticks(bot_xticks)
    ax.set_xticklabels([f'{v:g}' for v in bot_xticks])
    ax.set_xticks(np.arange(-0.1, 0.5501, 0.02), minor=True)
    ax.set_yticks(bot_yticks)
    ax.set_yticklabels([f'{v:g}' for v in bot_yticks])
    ax.tick_params(axis='x', which='both', direction='out', length=10, width=2.8, pad=16,
                   labelcolor='#333333')
    ax.tick_params(axis='y', direction='out', length=10, width=2.8, pad=3,
                   labelcolor='#333333')
    tick_fonts(ax, TICK_SIZE)
    for lab in ax.get_yticklabels():
        lab.set_fontproperties(FontProperties(family=ARIAL, weight='bold', size=27))
    ax.text(*txt['amp'], 'Amplitude ($\\mu$V)', ha='center', va='center',
            fontsize=27, fontweight='bold', color='#222222')
    ax.text(*txt['offset'], 'Sample\nstimulus\noffset', ha='center',
            va='center', fontsize=27, fontweight='bold', color='#222222', linespacing=1.2)
    ax.annotate('', xy=txt['arrow'][2:], xytext=txt['arrow'][:2],
                arrowprops=dict(arrowstyle='-|>', color='k', lw=3, mutation_scale=32))
    t = ax.text(*txt['time'], 'Time(sec)', ha='center', va='center',
                fontproperties=nfont(28), color='#222222')
    fit(t, 175)
    t = ax.text(*txt['win'], '320 - 550 ms', ha='center', va='center',
                fontproperties=nfont(29), color='#222222')
    fit(t, 222)
    t = ax.text(*txt['n250'], 'D-N250', ha='center', va='center',
                fontproperties=nfont(29), color='#222222', zorder=5)
    fit(t, 130)
    t = ax.text(*txt['p300'], 'D-P300', ha='center', va='center',
                fontproperties=nfont(29), color='#222222', zorder=5)
    fit(t, 126)


ax_tl = add_ax(102, 2069, 12, 1033)
top_panel(ax_tl, top_left, dict(amp=(-0.111, 4.51), onset=(-0.139, 3.2),
                                arrow=(-0.120, 2.39, -0.046, 0.65), stim=(0.149, 4.34),
                                delay=(0.574, 4.25), time=(0.79, 0.65)))
ax_tr = add_ax(2603, 4542, 20, 1042)
top_panel(ax_tr, top_right, dict(amp=(-0.103, 4.52), onset=(-0.139, 3.07),
                                 arrow=(-0.117, 2.03, -0.043, 0.53), stim=(0.148, 4.45),
                                 delay=(0.586, 4.45), time=(0.794, 0.69)))
ax_bl = add_ax(104, 2067, 1325, 2341)
bottom_panel(ax_bl, bot_left, dict(amp=(-0.049, 4.65), offset=(-0.0715, 2.62),
                                   arrow=(-0.068, 1.83, -0.0076, 0.28), time=(0.515, -0.79),
                                   win=(0.404, -1.18), n250=(0.245, -2.08), p300=(0.295, -1.65)))
ax_br = add_ax(2596, 4540, 1312, 2329)
bottom_panel(ax_br, bot_right, dict(amp=(-0.05, 4.69), offset=(-0.0736, 2.67),
                                    arrow=(-0.075, 1.80, -0.013, 0.32), time=(0.513, -0.85),
                                    win=(0.405, -1.06), n250=(0.243, -2.05), p300=(0.295, -1.47)))


def fx(x):
    return x / W


def fy(y):
    return 1 - y / H


# panel letters and titles
fig.text(fx(40), fy(52), 'A', ha='center', va='center', fontsize=42, fontweight='bold')
fig.text(fx(38), fy(1341), 'B', ha='center', va='center', fontsize=42, fontweight='bold')
t = fig.text(fx(1558), fy(1180), 'Left ROIs', ha='center', va='center',
             fontproperties=nfont(44))
fit(t, 253)
t = fig.text(fx(4061), fy(1180), 'Right ROIs', ha='center', va='center',
             fontproperties=nfont(44))
fit(t, 290)


# dashed connectors from delay period box to zoomed panels
def connector(x0, y0, x1, y1):
    d = np.hypot(x1 - x0, y1 - y0)
    ux, uy = (x1 - x0) / d, (y1 - y0) / d
    xs, ys = x1 - 34 * ux, y1 - 34 * uy
    fig.add_artist(Line2D([fx(x0), fx(xs)], [fy(y0), fy(ys)], color='k', lw=3.6,
                          ls=(0, (5, 3)), transform=fig.transFigure))
    fig.add_artist(FancyArrowPatch((fx(xs), fy(ys)), (fx(x1), fy(y1)),
                                   transform=fig.transFigure, arrowstyle='-|>',
                                   mutation_scale=44, color='k', lw=1))


connector(1039, 1035, 431, 1301)
connector(2069, 1035, 2067, 1317)
connector(3530, 1042, 2919, 1300)
connector(4542, 1042, 4540, 1301)

# legend
for i, (lab, col) in enumerate(zip(labels, colors)):
    y = fy(954 + 52.6 * i)
    ls = DASH if lab.startswith('dots') else '-'
    fig.add_artist(Line2D([fx(2115), fx(2240)], [y, y], color=col, lw=LW, ls=ls,
                          transform=fig.transFigure))
    t = fig.text(fx(2269), y, lab, ha='left', va='center', fontsize=28, fontweight='bold',
                 color='#111111')
    if i == 0:
        fit(t, 125)
        leg_size = t.get_fontsize()
    else:
        t.set_fontsize(leg_size)

fig.savefig('out.png', dpi=100)
